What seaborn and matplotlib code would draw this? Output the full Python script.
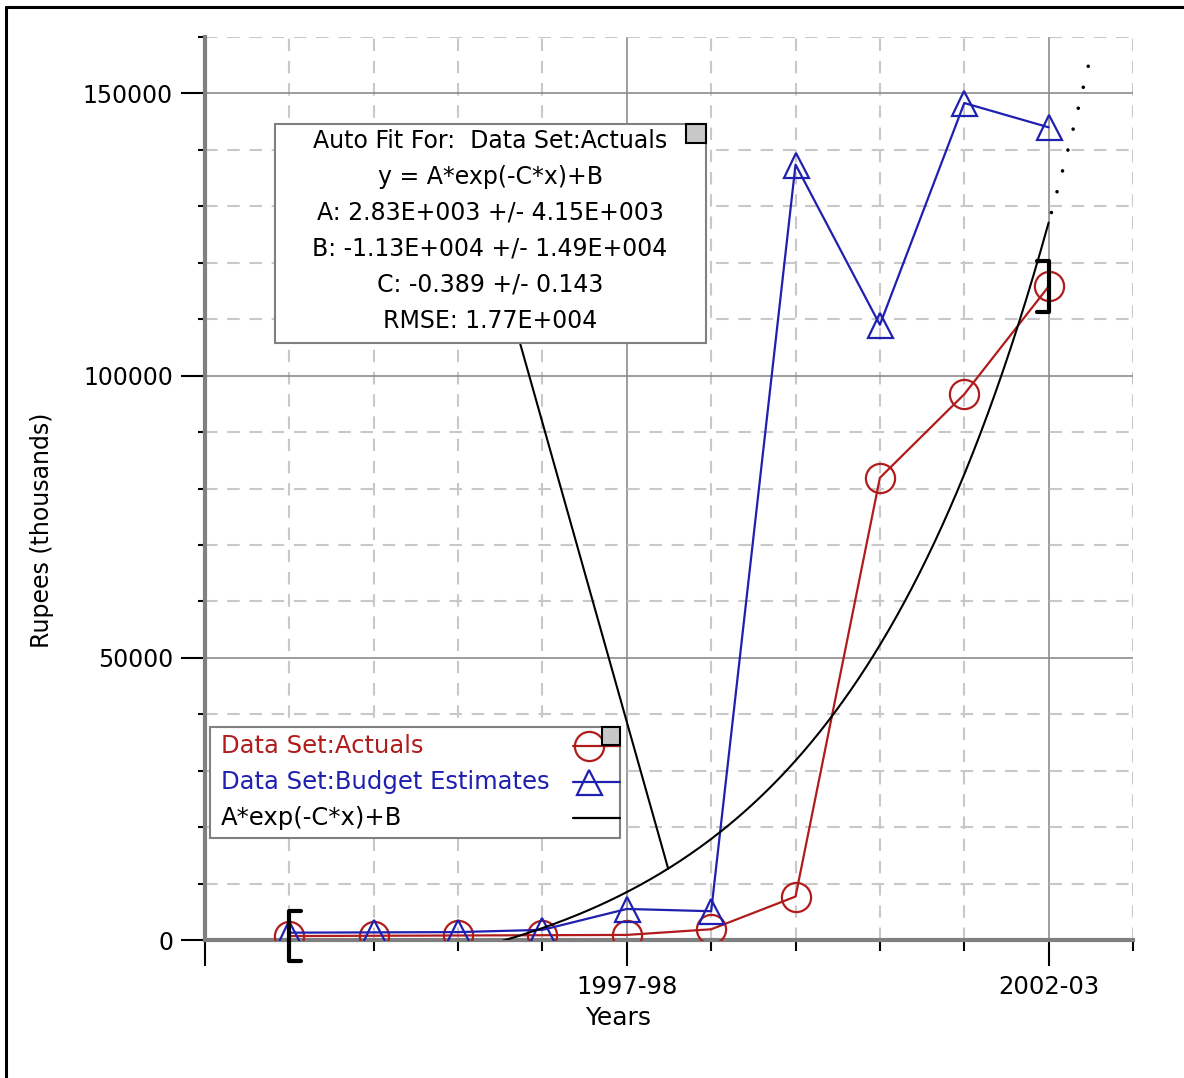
"""
Actuals vs budget estimates with an exponential auto-fit.
"""

import matplotlib.pyplot as plt
import numpy as np
import seaborn as sns
from matplotlib.lines import Line2D
from matplotlib.patches import Rectangle

# ── Data ─────────────────────────────────────────────────────────────

year_pos = [1, 2, 3, 4, 5, 6, 7, 8, 9, 10]
actuals = [700, 750, 800, 850, 900, 1900, 7700, 81900, 96700, 115800]
budget_estimates = [1300, 1350, 1400, 1800, 5500, 5100, 137400, 109000, 148300, 144000]

xtick_pos = [0, 5, 10]
xtick_labels = ["", "1997-98", "2002-03"]
ytick_pos = [0, 50000, 100000, 150000]

# fit parameters as reported in the box: y = A*exp(-C*x)+B
FIT_A = 2.83e3
FIT_B = -1.13e4
FIT_C = -0.389
fit_lines = [
    "Auto Fit For:  Data Set:Actuals",
    "y = A*exp(-C*x)+B",
    "A: 2.83E+003 +/- 4.15E+003",
    "B: -1.13E+004 +/- 1.49E+004",
    "C: -0.389 +/- 0.143",
    "RMSE: 1.77E+004",
]
legend_labels = ["Data Set:Actuals", "Data Set:Budget Estimates", "A*exp(-C*x)+B"]

RED = "#b01c1c"
BLUE = "#1f1fb0"
GRID_MAJOR = "#8c8c8c"
GRID_MINOR = "#c8c8c8"

# ── Theme ────────────────────────────────────────────────────────────

sns.set_theme(style="white")
plt.rcParams.update({
    "font.family": ["DejaVu Sans"],
    "font.size": 17,
    "text.color": "black",
    "axes.labelcolor": "black",
    "xtick.color": "black",
    "ytick.color": "black",
    "lines.scale_dashes": False,
})


def fit(x):
    return FIT_A * np.exp(-FIT_C * np.asarray(x)) + FIT_B


def axf(px, py):
    """pixel position of the reference -> axes fraction"""
    return (px - 205) / 928, (940 - py) / 903


fig = plt.figure(figsize=(11.84, 10.78), dpi=100)
ax = fig.add_axes([205 / 1184, 1 - 940 / 1078, 928 / 1184, 903 / 1078])
ax.set_axisbelow(True)

# ── Series ───────────────────────────────────────────────────────────

sns.lineplot(x=year_pos, y=actuals, color=RED, lw=1.6, marker="o", ms=21,
             mfc="none", mec=RED, mew=1.6, ax=ax, zorder=3)
sns.lineplot(x=year_pos, y=budget_estimates, color=BLUE, lw=1.6, marker="^", ms=18,
             mfc="none", mec=BLUE, mew=1.6, ax=ax, zorder=3)

# fitted curve over the fit range, dotted extrapolation past it
x_fit = np.linspace(year_pos[0], year_pos[-1], 300)
ax.plot(x_fit, fit(x_fit), color="black", lw=1.5, zorder=3)
x_ext = np.linspace(year_pos[-1], year_pos[-1] + 0.5, 30)
ax.plot(x_ext, fit(x_ext), color="black", lw=2.6, ls=(8, (0.01, 15.5)),
        dash_capstyle="round", zorder=3)

# fit-range brackets on the first and last actuals
for xv, yv, side in [(year_pos[0], actuals[0], 1), (year_pos[-1], actuals[-1], -1)]:
    h, w = 4500, 0.14 * side
    ax.plot([xv + w, xv, xv, xv + w], [yv + h, yv + h, yv - h, yv - h],
            color="black", lw=3, clip_on=False, zorder=4)

# ── Axes ─────────────────────────────────────────────────────────────

ax.set_xlim(0, 11)
ax.set_ylim(0, 160000)
ax.set_xticks(xtick_pos)
ax.set_xticklabels(xtick_labels)
ax.set_xticks(range(0, 12), minor=True)
ax.set_yticks(ytick_pos)
ax.set_yticklabels([str(v) for v in ytick_pos])
ax.set_yticks(range(0, 160001, 10000), minor=True)

ax.tick_params(axis="x", which="major", bottom=True, length=19, width=1.5,
               direction="out", pad=6, labelsize=17.5)
ax.tick_params(axis="x", which="minor", bottom=True, length=8, width=1.5, direction="out")
ax.tick_params(axis="y", which="major", left=True, length=17, width=1.5,
               direction="out", pad=6, labelsize=17)
ax.tick_params(axis="y", which="minor", left=True, length=5, width=1.5, direction="out")

ax.grid(which="major", color=GRID_MAJOR, lw=1.2, ls="-")
ax.grid(which="minor", color=GRID_MINOR, lw=1.5, ls=(0, (9, 7)))

for side in ["top", "right"]:
    ax.spines[side].set_visible(False)
for side in ["left", "bottom"]:
    ax.spines[side].set_color("#808080")
    ax.spines[side].set_linewidth(3)

ax.set_xlabel("Years", fontsize=18)
ax.xaxis.set_label_coords(*axf(618, 1006))
ax.set_ylabel("Rupees (thousands)", fontsize=17)
ax.yaxis.set_label_coords(*axf(54, 530))

# ── Fit info box ─────────────────────────────────────────────────────

x0, y0 = axf(275, 343)
x1, y1 = axf(706, 124)
ax.add_patch(Rectangle((x0, y0), x1 - x0, y1 - y0, transform=ax.transAxes,
                       facecolor="white", edgecolor="#808080", lw=1.5, zorder=6,
                       clip_on=False))
sq0 = axf(686, 143)
sq1 = axf(706, 124)
ax.add_patch(Rectangle(sq0, sq1[0] - sq0[0], sq1[1] - sq0[1], transform=ax.transAxes,
                       facecolor="#c8c8c8", edgecolor="black", lw=1.5, zorder=7,
                       clip_on=False))
for i, line in enumerate(fit_lines):
    tx, ty = axf(490, 141 + 36 * i)
    ax.text(tx, ty, line, transform=ax.transAxes, ha="center", va="center",
            fontsize=17, zorder=7)

# leader from box to the curve
lx0 = (520 - 205) / 928 * 11
ly0 = (940 - 343) / 903 * 160000
lx1 = 5.49
ax.plot([lx0, lx1], [ly0, fit(lx1)], color="black", lw=1.5, zorder=4)

# ── Legend ───────────────────────────────────────────────────────────

x0, y0 = axf(210, 838)
x1, y1 = axf(620, 727)
ax.add_patch(Rectangle((x0, y0), x1 - x0, y1 - y0, transform=ax.transAxes,
                       facecolor="white", edgecolor="#808080", lw=1.5, zorder=6))
handles = [("o", RED, 21), ("^", BLUE, 18), (None, "black", 0)]
for i, (label, (mk, col, ms)) in enumerate(zip(legend_labels, handles)):
    py = 746 + 36 * i
    tx, ty = axf(221, py)
    ax.text(tx, ty, label, transform=ax.transAxes, ha="left", va="center",
            fontsize=17.5, color=col, zorder=7)
    hx0, hy = axf(573, py)
    hx1, _ = axf(620, py)
    ax.add_line(Line2D([hx0, hx1], [hy, hy], transform=ax.transAxes, color=col,
                       lw=1.6, zorder=7))
    if mk:
        mx, _ = axf(589, py)
        ax.add_line(Line2D([mx], [hy], transform=ax.transAxes, marker=mk, ms=ms,
                           mfc="none", mec=col, mew=1.6, zorder=7))
sq0 = axf(602, 745)
sq1 = axf(620, 727)
ax.add_patch(Rectangle(sq0, sq1[0] - sq0[0], sq1[1] - sq0[1], transform=ax.transAxes,
                       facecolor="#c8c8c8", edgecolor="black", lw=1.5, zorder=8))

# ── Frame (left and top edges) ───────────────────────────────────────

fig.add_artist(Line2D([6 / 1184, 6 / 1184], [0, 1 - 7 / 1078], color="black", lw=2.2))
fig.add_artist(Line2D([6 / 1184, 1], [1 - 7 / 1078, 1 - 7 / 1078], color="black", lw=2.2))

fig.savefig("out.png", dpi=100)
plt.close(fig)
